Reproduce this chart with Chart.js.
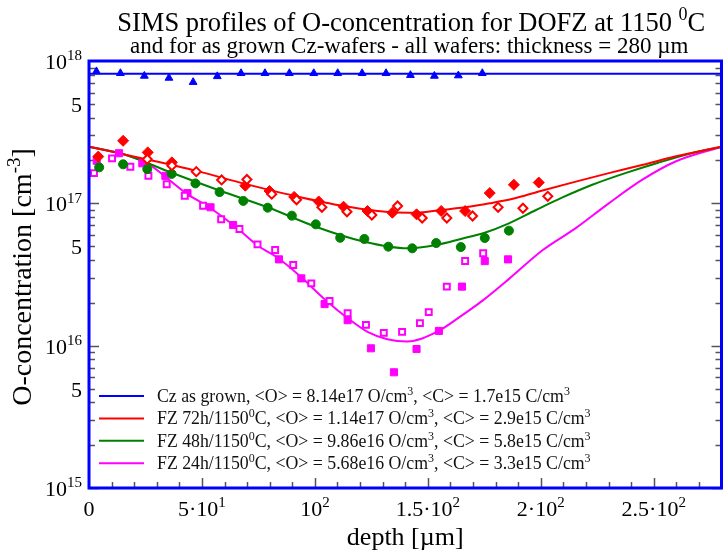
<!DOCTYPE html>
<html>
<head>
<meta charset="utf-8">
<title>SIMS O-concentration profiles</title>
<script src="https://cdn.jsdelivr.net/npm/chart.js@4.4.1/dist/chart.umd.min.js"></script>
<style>
  html, body { margin: 0; padding: 0; background: #fff; }
  canvas { display: block; }
</style>
</head>
<body>
<canvas id="sims" width="728" height="551"></canvas>
<script>
// Cz as grown (triangles) and its mean
const czMean = 8.14e17;
const czDepth = [3.3, 13.9, 24.5, 35.4, 46.1, 56.8, 67.3, 77.9, 88.7, 99.5, 110.1, 120.9, 131.5, 142.3, 152.9, 163.5, 174.1];
const czConc = [8.45e17, 8.2e17, 7.85e17, 7.6e17, 7.1e17, 7.8e17, 8.2e17, 8.2e17, 8.2e17, 8.2e17, 8.2e17, 8.2e17, 8.2e17, 7.95e17, 7.85e17, 7.9e17, 8.2e17];

// FZ 72h
const fz72FilledDepth = [4.1, 15.1, 26.0, 36.7, 69.2, 79.9, 90.8, 101.7, 112.7, 123.3, 134.3, 145.0, 155.9, 166.5, 177.4, 188.1, 199.1];
const fz72FilledConc = [2.13e17, 2.75e17, 2.28e17, 1.94e17, 1.33e17, 1.22e17, 1.11e17, 1.03e17, 9.47e16, 8.83e16, 8.59e16, 8.37e16, 8.83e16, 8.83e16, 1.18e17, 1.35e17, 1.40e17];
const fz72OpenDepth = [25.8, 36.7, 47.5, 58.7, 69.9, 80.9, 91.9, 103.1, 114.2, 125.2, 136.6, 147.5, 158.4, 169.8, 181.1, 192.1, 203.1];
const fz72OpenConc = [2.04e17, 1.84e17, 1.67e17, 1.46e17, 1.47e17, 1.16e17, 1.06e17, 9.38e16, 8.73e16, 8.28e16, 9.58e16, 7.89e16, 7.89e16, 8.15e16, 9.38e16, 9.23e16, 1.12e17];
const fz72FitDepth = [0, 25.3, 47.5, 69.2, 90.8, 112.7, 134.3, 145, 155.9, 166.5, 177.4, 188.1, 199.1, 215.5, 230.1, 244.8, 259.4, 280];
const fz72FitConc = [2.50e17, 2.04e17, 1.69e17, 1.37e17, 1.13e17, 9.58e16, 8.65e16, 8.59e16, 8.98e16, 9.38e16, 1.00e17, 1.08e17, 1.21e17, 1.42e17, 1.63e17, 1.86e17, 2.13e17, 2.50e17];

// FZ 48h
const fz48Depth = [4.5, 15.1, 25.8, 36.6, 47.1, 57.8, 68.3, 79.1, 89.8, 100.4, 111.2, 121.9, 132.5, 143.1, 153.7, 164.6, 175.2, 185.9];
const fz48Conc = [1.79e17, 1.88e17, 1.74e17, 1.61e17, 1.38e17, 1.20e17, 1.04e17, 9.32e16, 8.19e16, 7.12e16, 5.73e16, 5.62e16, 4.96e16, 4.83e16, 5.26e16, 4.93e16, 5.71e16, 6.43e16];
const fz48FitDepth = [0, 15.1, 36.6, 57.8, 79.1, 100.4, 121.9, 140.9, 153.7, 164.6, 175.2, 185.9, 197.9, 209.6, 222.8, 237.4, 252, 266.7, 280];
const fz48FitConc = [2.50e17, 2.22e17, 1.64e17, 1.23e17, 9.38e16, 6.85e16, 5.37e16, 4.83e16, 5.10e16, 5.62e16, 6.22e16, 7.24e16, 8.98e16, 1.10e17, 1.35e17, 1.63e17, 1.93e17, 2.25e17, 2.50e17];

// FZ 24h
const fz24FilledDepth = [3.4, 13.3, 23.6, 33.8, 43.6, 53.8, 63.8, 84.1, 94.0, 104.3, 114.5, 124.8, 135.0, 145.0, 154.9, 165.1, 175.2, 185.5];
const fz24FilledConc = [1.99e17, 2.25e17, 1.91e17, 1.56e17, 1.18e17, 9.38e16, 7.04e16, 4.04e16, 2.97e16, 1.96e16, 1.51e16, 9.58e15, 6.50e15, 9.47e15, 1.27e16, 2.60e16, 3.93e16, 4.04e16];
const fz24OpenDepth = [2.2, 10.2, 18.3, 26.3, 34.4, 42.4, 50.5, 58.5, 66.6, 74.6, 82.4, 90.4, 98.4, 106.5, 114.5, 122.6, 130.5, 138.6, 146.5, 150.4, 158.4, 166.5, 174.5];
const fz24OpenConc = [1.63e17, 2.07e17, 1.81e17, 1.56e17, 1.36e17, 1.13e17, 9.63e16, 7.72e16, 6.60e16, 5.15e16, 4.70e16, 3.69e16, 2.74e16, 2.06e16, 1.69e16, 1.40e16, 1.23e16, 1.25e16, 1.44e16, 1.72e16, 2.60e16, 3.93e16, 4.46e16];
const fz24FitDepth = [0, 13.6, 25.3, 42.9, 53.8, 64.8, 75, 83.8, 94, 104.3, 114.5, 123.3, 132.1, 140.9, 154, 164.3, 174.5, 186.2, 200.9, 215.5, 230.1, 244.8, 259.4, 280];
const fz24FitConc = [2.50e17, 2.25e17, 1.93e17, 1.18e17, 9.23e16, 6.85e16, 5.01e16, 4.11e16, 3.02e16, 2.12e16, 1.56e16, 1.25e16, 1.11e16, 1.07e16, 1.25e16, 1.60e16, 2.09e16, 2.97e16, 4.70e16, 6.70e16, 1.00e17, 1.46e17, 1.96e17, 2.50e17];

// axis labels ({..} = superscript)
const xTickValues = [0, 50, 100, 150, 200, 250];
const xTickLabels = ['0', '5·10{1}', '10{2}', '1.5·10{2}', '2·10{2}', '2.5·10{2}'];
const yTickValues = [1e18, 5e17, 1e17, 5e16, 1e16, 5e15, 1e15];
const yTickLabels = ['10{18}', '5', '10{17}', '5', '10{16}', '5', '10{15}'];

const BLUE = '#0000ff', RED = '#ff0000', GREEN = '#008000', MAGENTA = '#ff00ff';
const FONT = '"Liberation Serif", "Times New Roman", serif';

const pts = (xs, ys) => xs.map((x, i) => ({ x: x, y: ys[i] }));

// text with {superscript} parts
function rich(ctx, str, x, y, size, align) {
  const segs = str.split(/(\{[^}]*\})/).filter(s => s.length).map(s =>
    s[0] === '{' ? { t: s.slice(1, -1), sup: true } : { t: s, sup: false });
  const supSize = Math.round(size * 0.68);
  let w = 0;
  segs.forEach(s => {
    ctx.font = (s.sup ? supSize : size) + 'px ' + FONT;
    s.w = ctx.measureText(s.t).width;
    w += s.w;
  });
  let cx = align === 'center' ? x - w / 2 : align === 'right' ? x - w : x;
  ctx.textAlign = 'left';
  ctx.textBaseline = 'alphabetic';
  segs.forEach(s => {
    ctx.font = (s.sup ? supSize : size) + 'px ' + FONT;
    ctx.fillText(s.t, cx, s.sup ? y - size * 0.4 : y);
    cx += s.w;
  });
}

const ticksPlugin = {
  id: 'insideTicks',
  beforeDatasetsDraw(chart) {
    const { ctx, chartArea: a, scales: { x, y } } = chart;
    ctx.save();
    ctx.strokeStyle = '#555';
    ctx.lineWidth = 1.5;
    ctx.beginPath();
    for (let e = 15; e < 18; e++) {
      for (let m = 1; m <= 9; m++) {
        const py = Math.round(y.getPixelForValue(m * Math.pow(10, e))) + 0.5;
        const len = m === 1 ? 10 : 6;
        ctx.moveTo(a.left, py); ctx.lineTo(a.left + len, py);
        ctx.moveTo(a.right, py); ctx.lineTo(a.right - len, py);
      }
    }
    for (let d = 10; d < 280; d += 10) {
      const px = Math.round(x.getPixelForValue(d)) + 0.5;
      const len = d % 50 === 0 ? 10 : 6;
      ctx.moveTo(px, a.bottom); ctx.lineTo(px, a.bottom - len);
    }
    ctx.stroke();
    ctx.restore();
  },
  afterDatasetsDraw(chart) {
    const { ctx, chartArea: a } = chart;
    ctx.save();
    ctx.strokeStyle = BLUE;
    ctx.lineWidth = 3;
    ctx.strokeRect(a.left, a.top, a.right - a.left, a.bottom - a.top);
    ctx.restore();
  },
  afterDraw(chart) {
    const { ctx, chartArea: a, scales: { x, y } } = chart;
    ctx.save();
    ctx.fillStyle = '#000';
    const mid = (a.left + a.right) / 2;
    rich(ctx, 'SIMS profiles of O-concentration for DOFZ at 1150 {0}C', mid + 6, 31, 26.5, 'center');
    rich(ctx, 'and for as grown Cz-wafers - all wafers: thickness = 280 µm', mid + 4, 53, 23, 'center');

    yTickValues.forEach((v, i) => {
      rich(ctx, yTickLabels[i], 82, y.getPixelForValue(v) + 8, 22, 'right');
    });
    xTickValues.forEach((v, i) => {
      rich(ctx, xTickLabels[i], x.getPixelForValue(v), 516, 22, 'center');
    });
    rich(ctx, 'depth [µm]', mid, 545, 26, 'center');

    ctx.save();
    ctx.translate(22, 277);
    ctx.rotate(-Math.PI / 2);
    rich(ctx, 'O-concentration [cm{-3}]', 0, 9, 28, 'center');
    ctx.restore();

    // legend from the fitted-line datasets
    let row = 0;
    chart.data.datasets.forEach(ds => {
      if (!ds.legend) return;
      const cy = 396 + row * 22.4;
      ctx.strokeStyle = ds.borderColor;
      ctx.lineWidth = 2;
      ctx.beginPath();
      ctx.moveTo(99, cy); ctx.lineTo(144, cy);
      ctx.stroke();
      ctx.fillStyle = '#111';
      rich(ctx, ds.label, 157, cy + 6, 17.8, 'left');
      row++;
    });
    ctx.restore();
  }
};

const fit = (label, xs, ys, color) => ({
  label: label, legend: true, data: pts(xs, ys), showLine: true,
  borderColor: color, borderWidth: 2, pointRadius: 0,
  cubicInterpolationMode: 'monotone', order: 2
});
const marks = (xs, ys, style, color, open, r) => ({
  data: pts(xs, ys), showLine: false, pointStyle: style,
  pointRadius: r, pointBorderWidth: open ? 2 : 1,
  pointBackgroundColor: open ? '#fff' : color, pointBorderColor: color, order: 1
});

new Chart(document.getElementById('sims'), {
  type: 'scatter',
  data: {
    datasets: [
      {
        label: 'Cz as grown, <O> = 8.14e17 O/cm{3}, <C> = 1.7e15 C/cm{3}', legend: true,
        data: [{ x: 0, y: czMean }, { x: 280, y: czMean }], showLine: true,
        borderColor: BLUE, borderWidth: 2, pointRadius: 0, order: 2
      },
      fit('FZ 72h/1150{0}C, <O> = 1.14e17 O/cm{3}, <C> = 2.9e15 C/cm{3}', fz72FitDepth, fz72FitConc, RED),
      fit('FZ 48h/1150{0}C, <O> = 9.86e16 O/cm{3}, <C> = 5.8e15 C/cm{3}', fz48FitDepth, fz48FitConc, GREEN),
      fit('FZ 24h/1150{0}C, <O> = 5.68e16 O/cm{3}, <C> = 3.3e15 C/cm{3}', fz24FitDepth, fz24FitConc, MAGENTA),
      marks(czDepth, czConc, 'triangle', BLUE, false, 4.5),
      marks(fz72OpenDepth, fz72OpenConc, 'rectRot', RED, true, 4.5),
      marks(fz72FilledDepth, fz72FilledConc, 'rectRot', RED, false, 5.5),
      marks(fz48Depth, fz48Conc, 'circle', GREEN, false, 4.5),
      marks(fz24OpenDepth, fz24OpenConc, 'rect', MAGENTA, true, 4.2),
      marks(fz24FilledDepth, fz24FilledConc, 'rect', MAGENTA, false, 5)
    ]
  },
  options: {
    responsive: false,
    animation: false,
    layout: { padding: { left: 89, right: 1, top: 61, bottom: 63 } },
    plugins: { legend: { display: false }, tooltip: { enabled: false } },
    scales: {
      x: { type: 'linear', min: 0, max: 280, display: false },
      y: { type: 'logarithmic', min: 1e15, max: 1e18, display: false }
    }
  },
  plugins: [ticksPlugin]
});
</script>
</body>
</html>
